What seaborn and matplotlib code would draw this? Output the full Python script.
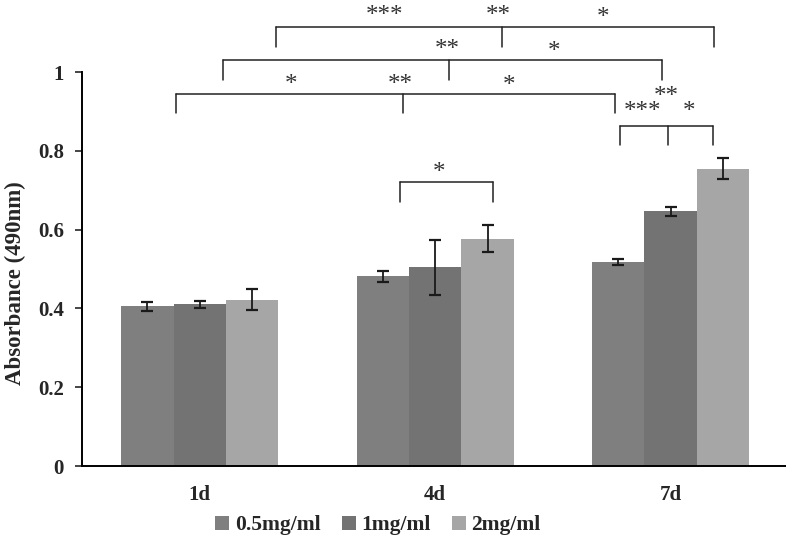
import numpy as np
import pandas as pd
import matplotlib
matplotlib.use("Agg")
import matplotlib.pyplot as plt
import seaborn as sns

days = ["1d", "4d", "7d"]
concentrations = ["0.5mg/ml", "1mg/ml", "2mg/ml"]
mean_05 = [0.405, 0.481, 0.517]
mean_1 = [0.410, 0.504, 0.646]
mean_2 = [0.422, 0.577, 0.755]
err_05 = [0.011, 0.014, 0.008]
err_1 = [0.010, 0.070, 0.011]
err_2 = [0.027, 0.034, 0.026]
colors = ["#7f7f7f", "#737373", "#a6a6a6"]
y_ticks = [0, 0.2, 0.4, 0.6, 0.8, 1]
y_tick_labels = ["0", "0.2", "0.4", "0.6", "0.8", "1"]

# significance brackets: (x positions in data units, line height, tick bottom)
brackets = [
    ([0.324, 1.282, 2.185], 1.115, 1.064),
    ([0.099, 1.059, 1.962], 1.030, 0.980),
    ([-0.099, 0.864, 1.764], 0.944, 0.896),
    ([1.785, 1.989, 2.182], 0.864, 0.815),
    ([0.851, 1.247], 0.720, 0.671),
]
stars = [
    ("***", 0.787, 1.142), ("**", 1.267, 1.142), ("*", 1.715, 1.137),
    ("**", 1.053, 1.056), ("*", 1.503, 1.051),
    ("*", 0.388, 0.967), ("**", 0.851, 0.967), ("*", 1.312, 0.964),
    ("**", 1.983, 0.937), ("***", 1.879, 0.898), ("*", 2.08, 0.898),
    ("*", 1.016, 0.744),
]

means = [mean_05, mean_1, mean_2]
errs = [err_05, err_1, err_2]
df = pd.DataFrame({
    "day": np.repeat([days], 3, axis=0).ravel(),
    "conc": np.repeat(concentrations, 3),
    "value": np.concatenate(means),
})

sns.set_style("white")
plt.rcParams["font.family"] = ["Liberation Serif", "DejaVu Serif"]

fig = plt.figure(figsize=(7.86, 5.46), dpi=100)
ax = fig.add_axes([82 / 786, 80 / 546, 704 / 786, 466 / 546])

sns.barplot(data=df, x="day", y="value", hue="conc", order=days,
            hue_order=concentrations, palette=colors, width=0.667,
            errorbar=None, saturation=1, ax=ax, edgecolor="none", linewidth=0)

bar_containers = list(ax.containers)
handles = [cont.patches[0] for cont in bar_containers]

for cont, er in zip(bar_containers, errs):
    xs = [b.get_x() + b.get_width() / 2 for b in cont.patches]
    hs = [b.get_height() for b in cont.patches]
    ax.errorbar(xs, hs, yerr=er, fmt="none", ecolor="#1a1a1a",
                elinewidth=1.3, capsize=4, capthick=1.6, zorder=5)

ax.set_xlim(-0.5, 2.49)
ax.set_ylim(0, 466 / 394)
ax.set_yticks(y_ticks)
ax.set_yticklabels(y_tick_labels, fontsize=15, fontweight="bold")
ax.set_xticks(range(3))
ax.set_xticklabels(days, fontsize=15, fontweight="bold")
ax.tick_params(axis="x", length=0, pad=14)
ax.tick_params(axis="y", direction="out", length=5, width=1.2, left=True, pad=8)
ax.set_xlabel("")
ax.set_ylabel("Absorbance (490nm)", fontsize=16.5, fontweight="bold")
ax.yaxis.set_label_coords(-0.08, 0.393)
for s in ["top", "right"]:
    ax.spines[s].set_visible(False)
ax.spines["left"].set_bounds(0, 1)
ax.spines["left"].set_linewidth(1.4)
ax.spines["bottom"].set_linewidth(1.4)
ax.spines["left"].set_color("black")
ax.spines["bottom"].set_color("black")

for xs_b, yl, yb in brackets:
    ax.plot([xs_b[0], xs_b[-1]], [yl, yl], color="#222222", lw=1.1, clip_on=False)
    for xb in xs_b:
        ax.plot([xb, xb], [yb, yl], color="#222222", lw=1.1, clip_on=False)

for txt, xt, yt in stars:
    ax.text(xt, yt, txt, ha="center", va="center", fontsize=18, color="#333333",
            clip_on=False)

leg = ax.get_legend()
if leg is not None:
    leg.remove()
fig.legend(handles, concentrations, loc="center", bbox_to_anchor=(0.481, 0.038),
           ncol=3, frameon=False, prop={"size": 15.5, "weight": "bold"},
           handlelength=0.65, handleheight=0.65, handletextpad=0.25,
           columnspacing=1.0)

fig.savefig("out.png", dpi=100)
